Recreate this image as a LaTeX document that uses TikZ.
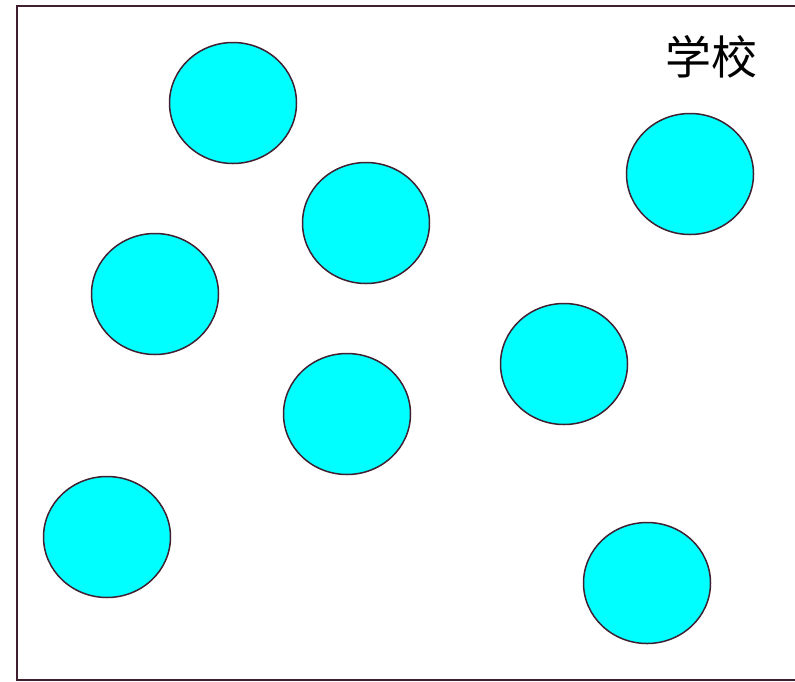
\documentclass[tikz,border=0pt]{standalone}
\usepackage{fontspec}
\newfontfamily\cjk{Noto Sans CJK SC}
\definecolor{frameplum}{RGB}{64,32,48}
\definecolor{pondcyan}{RGB}{0,255,255}
\usetikzlibrary{shapes.geometric}
\tikzset{pond/.style={ellipse, draw=frameplum, line width=1.5pt, fill=pondcyan, minimum width=127pt, minimum height=121pt, inner sep=0pt}}

\begin{document}
\begin{tikzpicture}[x=1pt,y=-1pt]
  \useasboundingbox (0,0) rectangle (795,681);
  %% frame
  \draw[frameplum, line width=2pt] (795,6) -- (17,6) -- (17,680) -- (795,680);
  %% label
  \node[font=\cjk\fontsize{46}{46}\selectfont] (school) at (711,57) {学校};
  %% circles
  \node[pond] (p1) at (233,103) {};
  \node[pond] (p2) at (366,223) {};
  \node[pond] (p3) at (155,294) {};
  \node[pond] (p4) at (690,174) {};
  \node[pond] (p5) at (564,364) {};
  \node[pond] (p6) at (347,414) {};
  \node[pond] (p7) at (107,537) {};
  \node[pond] (p8) at (647,583) {};
\end{tikzpicture}
\end{document}
